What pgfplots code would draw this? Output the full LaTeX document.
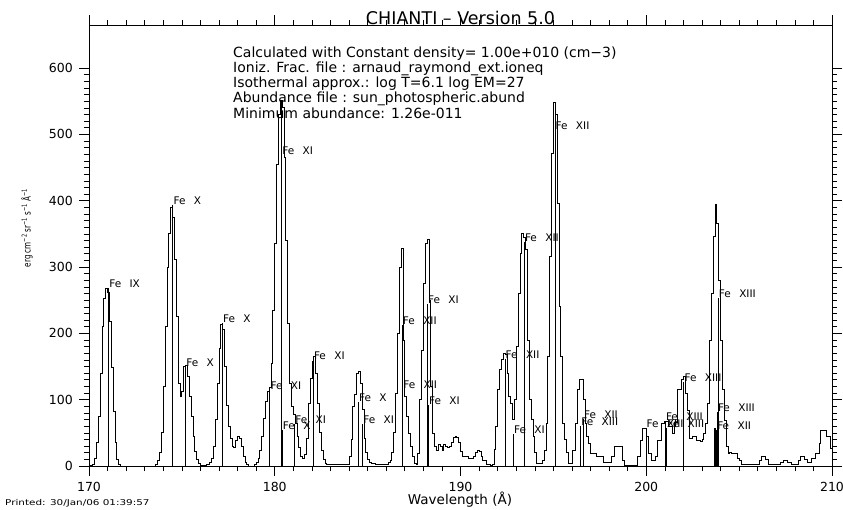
\documentclass[border=0pt]{standalone}
\usepackage{pgfplots}
\pgfplotsset{compat=1.18}
\usepackage{fontspec}
\setmainfont{DejaVu Sans}
\newcommand{\lbl}{\fontsize{10.5}{12}\selectfont\spaceskip=0.8em\relax}

\begin{document}
\begin{tikzpicture}
\useasboundingbox (-89pt,-43pt) rectangle (754pt,466pt);
\begin{axis}[
  at={(0,0)}, anchor=south west,
  scale only axis, width=743pt, height=441pt,
  xmin=170, xmax=210, ymin=0, ymax=665,
  xtick={170,180,...,210}, minor x tick num=9,
  ytick={0,100,...,600}, minor y tick num=9,
  tick align=outside,
  major tick length=10pt, minor tick length=5pt,
  axis line style={line width=0.7pt},
  every tick/.style={black, line width=0.6pt},
  /pgf/number format/assume math mode=true,
  tick label style={font=\fontsize{12.5}{14}\selectfont},
  yticklabel style={inner sep=0pt, xshift=-6pt},
  xticklabel style={inner sep=0pt, yshift=-6pt},
  clip=false,
]
% synthetic spectrum (step histogram)
\addplot[const plot mark left, black, line width=0.8pt] coordinates {
(170.0,0) (170.1,1) (170.2,3) (170.3,12) (170.4,35) (170.5,75) (170.6,140)
(170.7,210) (170.8,252) (170.9,268) (171.0,262) (171.1,218) (171.2,148)
(171.3,82) (171.4,35) (171.5,10) (171.6,2) (171.7,0)
(173.5,0) (173.6,3) (173.7,8) (173.8,20) (173.9,50) (174.0,120) (174.1,210)
(174.2,300) (174.3,350) (174.4,390) (174.5,375) (174.6,312) (174.7,225)
(174.8,125) (174.9,105) (175.0,112) (175.1,150) (175.2,152) (175.3,135)
(175.4,105) (175.5,75) (175.6,45) (175.7,22) (175.8,10) (175.9,4) (176.0,1)
(176.3,2) (176.5,5) (176.6,12) (176.7,30) (176.8,70) (176.9,125) (177.0,178)
(177.1,214) (177.2,206) (177.3,150) (177.4,92) (177.5,60) (177.6,42)
(177.7,30) (177.8,28) (177.9,38) (178.0,44) (178.1,42) (178.2,30) (178.3,14)
(178.4,5) (178.5,2) (178.6,0)
(178.9,2) (179.0,6) (179.1,12) (179.2,24) (179.3,45) (179.4,72) (179.5,98)
(179.6,112) (179.7,118) (179.8,155) (179.9,235) (180.0,335) (180.1,455)
(180.2,530) (180.3,552) (180.4,540) (180.5,465) (180.6,340) (180.7,215)
(180.8,125) (180.9,90) (181.0,78) (181.1,64) (181.2,45) (181.3,28) (181.4,15)
(181.5,12) (181.6,18) (181.7,42) (181.8,95) (181.9,132) (182.0,158)
(182.1,165) (182.2,140) (182.3,95) (182.4,50) (182.5,24) (182.6,10)
(182.7,4) (182.8,2)
(183.8,2) (183.9,3) (184.0,15) (184.1,40) (184.2,90) (184.3,108) (184.4,140)
(184.5,142) (184.6,125) (184.7,85) (184.8,42) (184.9,20) (185.0,10)
(185.1,6) (185.2,4) (185.4,3)
(186.0,3) (186.1,5) (186.2,8) (186.3,20) (186.4,50) (186.5,110) (186.6,200)
(186.7,300) (186.8,328) (186.9,190) (187.0,105) (187.1,75) (187.2,49)
(187.3,30) (187.4,14) (187.5,4) (187.6,3) (187.7,19) (187.8,100) (187.9,175)
(188.0,275) (188.1,335) (188.2,342) (188.3,250) (188.4,120) (188.5,49)
(188.6,30) (188.7,24) (188.8,32) (188.9,30) (189.0,24) (189.1,32) (189.2,30)
(189.3,28) (189.4,30) (189.5,35) (189.6,43) (189.7,45) (189.8,43) (189.9,35)
(190.0,22) (190.1,14) (190.4,12) (190.7,14) (190.8,20) (190.9,23) (191.0,22)
(191.1,15) (191.2,8) (191.4,2) (191.6,1)
(191.7,3) (191.8,25) (191.9,60) (192.0,115) (192.1,145) (192.2,160)
(192.3,170) (192.4,168) (192.5,139) (192.6,105) (192.7,95) (192.8,70)
(192.9,100) (193.0,180) (193.1,260) (193.2,320) (193.3,351) (193.4,345)
(193.5,326) (193.6,190) (193.7,100) (193.8,70) (193.9,44) (194.0,20)
(194.1,4) (194.3,4) (194.4,9)
(194.5,24) (194.6,64) (194.7,165) (194.8,316) (194.9,472) (195.0,549)
(195.1,530) (195.2,396) (195.3,240) (195.4,165) (195.5,64) (195.6,40)
(195.7,20) (195.8,4)
(196.0,24) (196.2,64) (196.3,115) (196.4,130) (196.5,130) (196.6,100)
(196.7,64) (196.8,45) (196.9,34) (197.0,19) (197.3,14) (197.7,5)
(198.1,14) (198.3,29) (198.7,9) (198.8,1)
(199.5,14) (199.7,39) (199.8,57) (200.0,44) (200.1,19) (200.3,9) (200.5,14)
(200.6,39) (200.8,64) (201.0,67) (201.2,59) (201.4,49) (201.5,66)
(201.7,115) (201.9,130) (202.0,135) (202.1,110) (202.2,84) (202.3,42)
(202.5,44) (202.7,39) (202.9,37) (203.0,40) (203.1,49) (203.2,64)
(203.3,95) (203.4,190) (203.5,260) (203.6,346) (203.7,394) (203.8,366)
(203.9,280) (204.0,190) (204.1,115) (204.2,69) (204.3,29) (204.4,19)
(204.5,20) (204.6,19) (204.8,19) (204.9,12) (205.0,8) (205.1,2)
(205.9,3) (206.1,8) (206.2,14) (206.4,10) (206.6,3) (207.2,5) (207.4,9)
(207.6,5) (207.8,3) (208.2,8) (208.3,14) (208.5,10) (208.7,5) (208.9,12)
(209.1,19) (209.3,34) (209.4,54) (209.6,54) (209.7,44) (209.9,27) (210.0,27)
};
% identified lines
\addplot[ycomb, black, line width=0.6pt, mark=none,
  nodes near coords, point meta=explicit symbolic,
  every node near coord/.append style={anchor=south west, inner sep=0pt, xshift=0.5pt, font=\lbl}]
coordinates {
(171.05,268) [Fe IX]
(174.51,394) [Fe X]
(175.20,150) [Fe X]
(177.18,215) [Fe X]
(179.73,114) [Fe XI]
(180.37,469) [Fe XI]
(180.40,54) [Fe X]
(181.07,64) [Fe XI]
(182.07,160) [Fe XI]
(184.50,97) [Fe X]
(184.73,63) [Fe XI]
(186.86,212) [Fe XII]
(186.88,116) [Fe XII]
(188.21,244) [Fe XI]
(188.27,92) [Fe XI]
(192.39,161) [Fe XII]
(192.84,49) [Fe XI]
(193.43,338) [Fe XII]
(195.08,507) [Fe XII]
(196.46,60) [Fe XIII]
(196.61,71) [Fe XII]
(199.98,57) [Fe XIII]
(201.02,68) [Fe XIII]
(201.09,58) [Fe XIII]
(202.02,126) [Fe XIII]
(203.87,254) [Fe XIII]
(203.82,81) [Fe XIII]
(203.78,54) [Fe XII]
};
\addplot[ycomb, black, line width=0.8pt, mark=none] coordinates {
(203.65,57) (203.70,57) (203.74,57) (188.29,92) (180.38,552) (195.09,549)
};
\node[anchor=base, font=\fontsize{17.5}{19}\selectfont, inner sep=0pt]
  at (rel axis cs:0.5,1) {CHIANTI – Version 5.0};
\node[anchor=north west, align=left, inner sep=0pt,
  font=\fontsize{14}{15.3}\selectfont]
  at (rel axis cs:0.1938,0.952) {Calculated with Constant density= 1.00e+010 (cm−3)\\
Ioniz. Frac. file : arnaud\_raymond\_ext.ioneq\\
Isothermal approx.: log T=6.1 log EM=27\\
Abundance file : sun\_photospheric.abund\\
Minimum abundance: 1.26e-011};
\end{axis}
\node[rotate=90, inner sep=0pt] at (-62pt,238pt)
  {\scalebox{0.72}[1]{\fontsize{10}{12}\selectfont erg cm\textsuperscript{−2} sr\textsuperscript{−1} s\textsuperscript{−1} Å\textsuperscript{−1}}};
\node[font=\fontsize{13.5}{15}\selectfont, inner sep=0pt] at (371pt,-34pt) {Wavelength (Å)};
\node[anchor=west, inner sep=0pt] at (-84pt,-37pt)
  {\scalebox{1.3}[1]{\fontsize{8}{9}\selectfont Printed: 30/Jan/06 01:39:57}};
\end{tikzpicture}
\end{document}
